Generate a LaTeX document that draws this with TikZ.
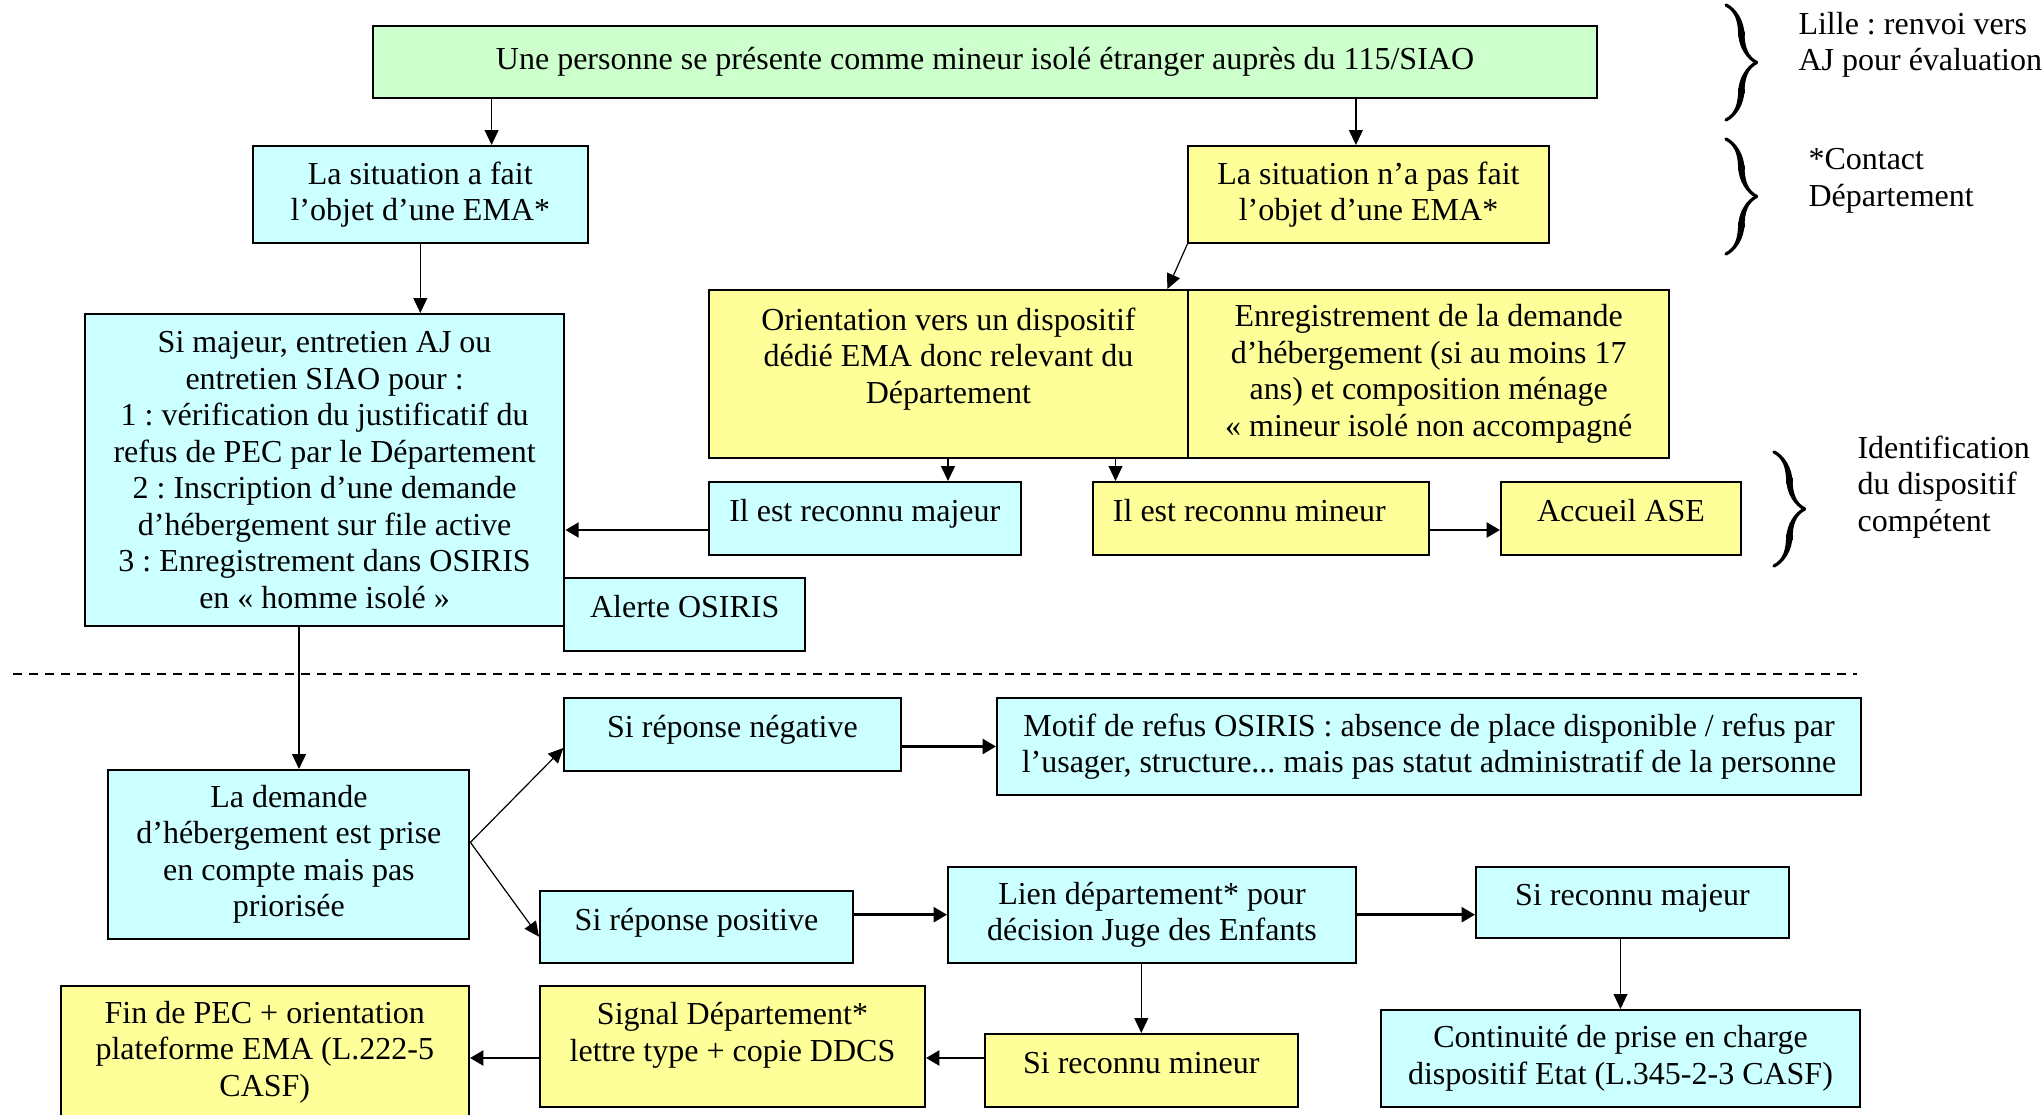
\documentclass[tikz,border=0pt]{standalone}
\usepackage{fontspec}
\setmainfont{Liberation Serif}
\frenchspacing
\usetikzlibrary{arrows.meta,calc,decorations.pathreplacing,calligraphy}
\definecolor{cy}{HTML}{CCFFFF}
\definecolor{ye}{HTML}{FFFF99}
\definecolor{gr}{HTML}{CCFFCC}
\def\pxu{0.375}
\newcommand\bx[7]{\node[#6, minimum width={(#4-#2)*\pxu pt}, minimum height={(#5-#3)*\pxu pt}] (#1) at ({(#2+#4)/2},{(#3+#5)/2}) {#7};}
\tikzset{
 boxc/.style={draw=black, line width=0.75pt, fill=cy, inner sep=0pt, align=center, font=\fontsize{12}{13.7}\selectfont},
 boxy/.style={boxc, fill=ye},
 boxg/.style={boxc, fill=gr},
 sl/.style={text height=8pt, text depth=5.4pt},
 arr/.style={-{Triangle[length=5.6pt,width=5.2pt]}, line width=0.45pt},
 arrb/.style={-{Triangle[length=5pt,width=5.6pt]}, line width=0.9pt},
 note/.style={anchor=west, align=left, inner sep=0pt, font=\fontsize{12}{13.7}\selectfont},
 brc/.style={decorate, decoration={calligraphic brace, amplitude=11.5pt}, line width=2.4pt},
 dline/.style={line width=0.6pt, dash pattern=on 3.4pt off 2.6pt},
}
\begin{document}
\begin{tikzpicture}[x=0.375pt, y=-0.375pt]
\useasboundingbox (0,0) rectangle (2044,1115);
\fill[white] (0,0) rectangle (2044,1115);
\clip (0,0) rectangle (2044,1115);

% boxes
\bx{top}{373}{26}{1597}{98}{boxg}{Une personne se présente comme mineur isolé étranger auprès du 115/SIAO}
\bx{sit1}{252.6}{146}{588}{243}{boxc}{La situation a fait\\l’objet d’une EMA*}
\bx{sit2}{1188.4}{146}{1548.6}{243}{boxy}{La situation n’a pas fait\\l’objet d’une EMA*}
\bx{big}{84.8}{314}{564.4}{626}{boxc}{Si majeur, entretien AJ ou\\entretien SIAO pour :\\1 : vérification du justificatif du\\refus de PEC par le Département\\2 : Inscription d’une demande\\d’hébergement sur file active\\3 : Enregistrement dans OSIRIS\\en « homme isolé »}
\bx{alerte}{564.4}{578}{805}{651}{boxc, sl}{Alerte OSIRIS}
\bx{orient}{708.5}{290}{1188.4}{458}{boxy}{Orientation vers un dispositif\\dédié EMA donc relevant du\\Département\\[-4pt]\strut}
\bx{enreg}{1188.4}{290}{1669}{458}{boxy}{Enregistrement de la demande\\d’hébergement (si au moins 17\\ans) et composition ménage\\« mineur isolé non accompagné}
\bx{majr}{708.5}{482}{1021}{555}{boxc, sl}{Il est reconnu majeur}
\bx{mine}{1092.5}{482}{1429.4}{555}{boxy, sl}{\makebox[111pt][l]{Il est reconnu mineur}}
\bx{ase}{1501}{482}{1741}{555}{boxy, sl}{Accueil ASE}
\bx{demande}{108.4}{770}{469.4}{938.7}{boxc}{La demande\\d’hébergement est prise\\en compte mais pas\\priorisée}
\bx{neg}{564.4}{698}{900.5}{771}{boxc, sl}{Si réponse négative}
\bx{motif}{997}{698}{1861}{795}{boxc}{Motif de refus OSIRIS : absence de place disponible / refus par\\l’usager, structure... mais pas statut administratif de la personne}
\bx{pos}{540}{890.7}{853}{962.7}{boxc, sl}{Si réponse positive}
\bx{lien}{948}{866.7}{1356}{962.7}{boxc}{Lien département* pour\\décision Juge des Enfants}
\bx{smaj}{1476}{867}{1789}{938}{boxc, sl}{Si reconnu majeur}
\bx{cont}{1381}{1010}{1860}{1107}{boxc}{Continuité de prise en charge\\dispositif Etat (L.345-2-3 CASF)}
\bx{smin}{985}{1034}{1297.6}{1107}{boxy, sl}{Si reconnu mineur}
\bx{signal}{540}{986}{925}{1107}{boxy}{Signal Département*\\lettre type + copie DDCS\\[-7pt]\strut}
\bx{fin}{60.6}{986}{469}{1118}{boxy}{Fin de PEC + orientation\\plateforme EMA (L.222-5\\CASF)}

% side notes
\node[note] (n1) at (1798,45) {Lille : renvoi vers\\AJ pour évaluation};
\node[note] (n2) at (1808,181) {*Contact\\Département};
\node[note] (n3) at (1857,487) {Identification\\du dispositif\\compétent};

% braces
\coordinate (b1t) at (1726,5);   \coordinate (b1b) at (1726,120);
\coordinate (b2t) at (1726,139); \coordinate (b2b) at (1726,254);
\coordinate (b3t) at (1774,452); \coordinate (b3b) at (1774,566);
\draw[brc] (b1t) -- (b1b);
\draw[brc] (b2t) -- (b2b);
\draw[brc] (b3t) -- (b3b);

% dashed separator
\coordinate (d1) at (13,674); \coordinate (d2) at (1857,674);
\draw[dline] (d1) -- (d2);

% connectors
\coordinate (a1) at ([xshift=240*\pxu pt]sit1.north west);
\draw[arr] (top.south -| a1) -- (a1);
\coordinate (a2) at ([xshift=168.5*\pxu pt]sit2.north west);
\draw[arr] (top.south -| a2) -- (a2);
\draw[arr] (sit1.south) -- (sit1.south |- big.north);
\draw[arr] (sit2.south west) -- ([xshift=-22*\pxu pt]orient.north east);
\coordinate (a5) at ([xshift=240.5*\pxu pt]majr.north west);
\draw[arr] (orient.south -| a5) -- (a5);
\coordinate (a6) at ([xshift=24*\pxu pt]mine.north west);
\draw[arr] (orient.south -| a6) -- (a6);
\coordinate (a7) at ([yshift=-11.5*\pxu pt]majr.west);
\draw[arrb] (a7) -- (a7 -| big.east);
\coordinate (a8) at ([yshift=-11.5*\pxu pt]mine.east);
\draw[arrb] (a8) -- (a8 -| ase.west);
\coordinate (a9) at ([xshift=191.6*\pxu pt]demande.north west);
\draw[arr] (big.south -| a9) -- (a9);
\coordinate (a10) at ([yshift=12*\pxu pt]demande.east);
\draw[arr] (a10) -- ([yshift=-13.5*\pxu pt]neg.west);
\draw[arr] (a10) -- ([yshift=-10*\pxu pt]pos.west);
\draw[arrb] (motif.west -| neg.east) -- (motif.west);
\draw[arrb] (lien.west -| pos.east) -- (lien.west);
\draw[arrb] (lien.east) -- (lien.east -| smaj.west);
\draw[arr] (cont.north |- smaj.south) -- (cont.north);
\draw[arr] (smin.north |- lien.south) -- (smin.north);
\coordinate (a17) at ([yshift=12.5*\pxu pt]smin.west);
\draw[arrb] (a17) -- (a17 -| signal.east);
\draw[arrb] (a17 -| signal.west) -- (a17 -| fin.east);
\end{tikzpicture}
\end{document}
